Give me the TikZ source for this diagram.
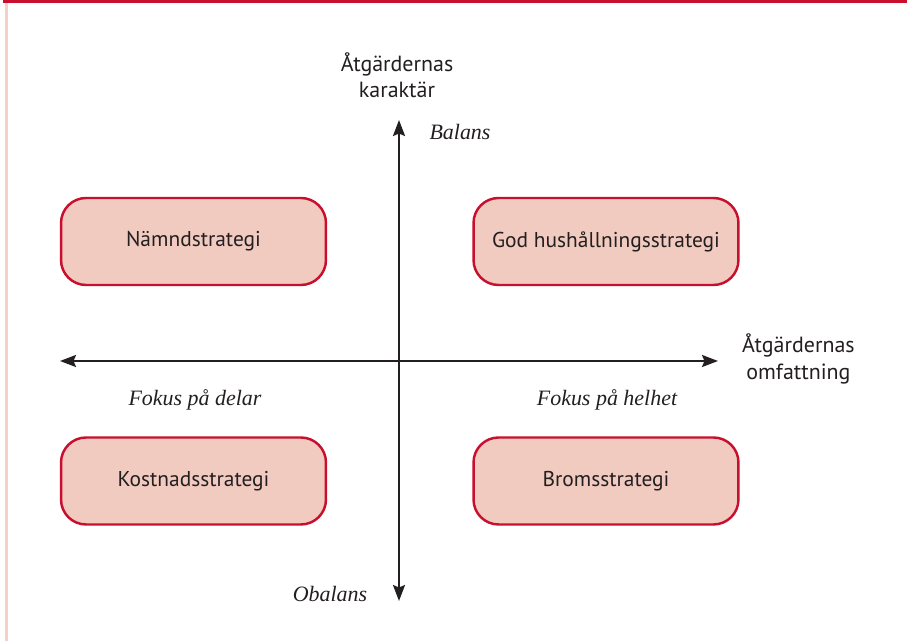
\documentclass[tikz,border=0pt]{standalone}
\usepackage{fontspec}
\setmainfont{PT Sans}
\newfontfamily\kursiv{Liberation Serif}
\usepackage{tikz}
\usetikzlibrary{arrows,arrows.meta}
\definecolor{rubin}{RGB}{200,16,46}
\definecolor{laxrosa}{RGB}{242,203,192}
\definecolor{ljusrosa}{RGB}{245,208,197}
\definecolor{textgra}{RGB}{35,31,32}
\tikzstyle{strategi} = [rectangle, rounded corners=0.5cm, minimum width=5.3cm, minimum height=1.74cm, draw=rubin, line width=1.4pt, fill=laxrosa, text=textgra, font=\fontsize{12.2}{14}\selectfont]
\tikzstyle{axel} = [line width=1.2pt, draw=textgra, {Stealth[length=0.32cm,width=0.24cm,inset=0.05cm]}-{Stealth[length=0.32cm,width=0.24cm,inset=0.05cm]}]
\tikzstyle{axeltext} = [text=textgra, align=center, font=\fontsize{12.5}{15}\selectfont]
\tikzstyle{poltext} = [text=textgra, font=\kursiv\itshape\fontsize{12.5}{14}\selectfont]

\begin{document}
\begin{tikzpicture}[x=0.02cm, y=-0.02cm]
\useasboundingbox (0,0) rectangle (907,641);
% ram
\fill[rubin] (3,0) rectangle (907,3.5);
\fill[ljusrosa] (5,3.5) rectangle (7.5,641);
% axlar
\coordinate (topp) at (399,120);
\coordinate (botten) at (399,601);
\coordinate (vanster) at (60,361);
\coordinate (hoger) at (718,361);
\draw[axel] (botten) -- (topp);
\draw[axel] (vanster) -- (hoger);
% strategier
\node (namnd) [strategi] at (193.5,241.5) {Nämndstrategi};
\node (god) [strategi] at (606,241.5) {God hushållningsstrategi};
\node (kostnad) [strategi] at (193.5,481) {Kostnadsstrategi};
\node (broms) [strategi] at (606,481) {Bromsstrategi};
% texter
\node (karaktar) [axeltext] at (397,75) {Åtgärdernas\\karaktär};
\node (omfattning) [axeltext, anchor=west] at (736,359) {Åtgärdernas\\omfattning};
\node (balans) [poltext] at (460,132) {Balans};
\node (obalans) [poltext] at (330,594) {Obalans};
\node (delar) [poltext] at (195,400) {Fokus på delar};
\node (helhet) [poltext] at (607,400) {Fokus på helhet};
\end{tikzpicture}
\end{document}
